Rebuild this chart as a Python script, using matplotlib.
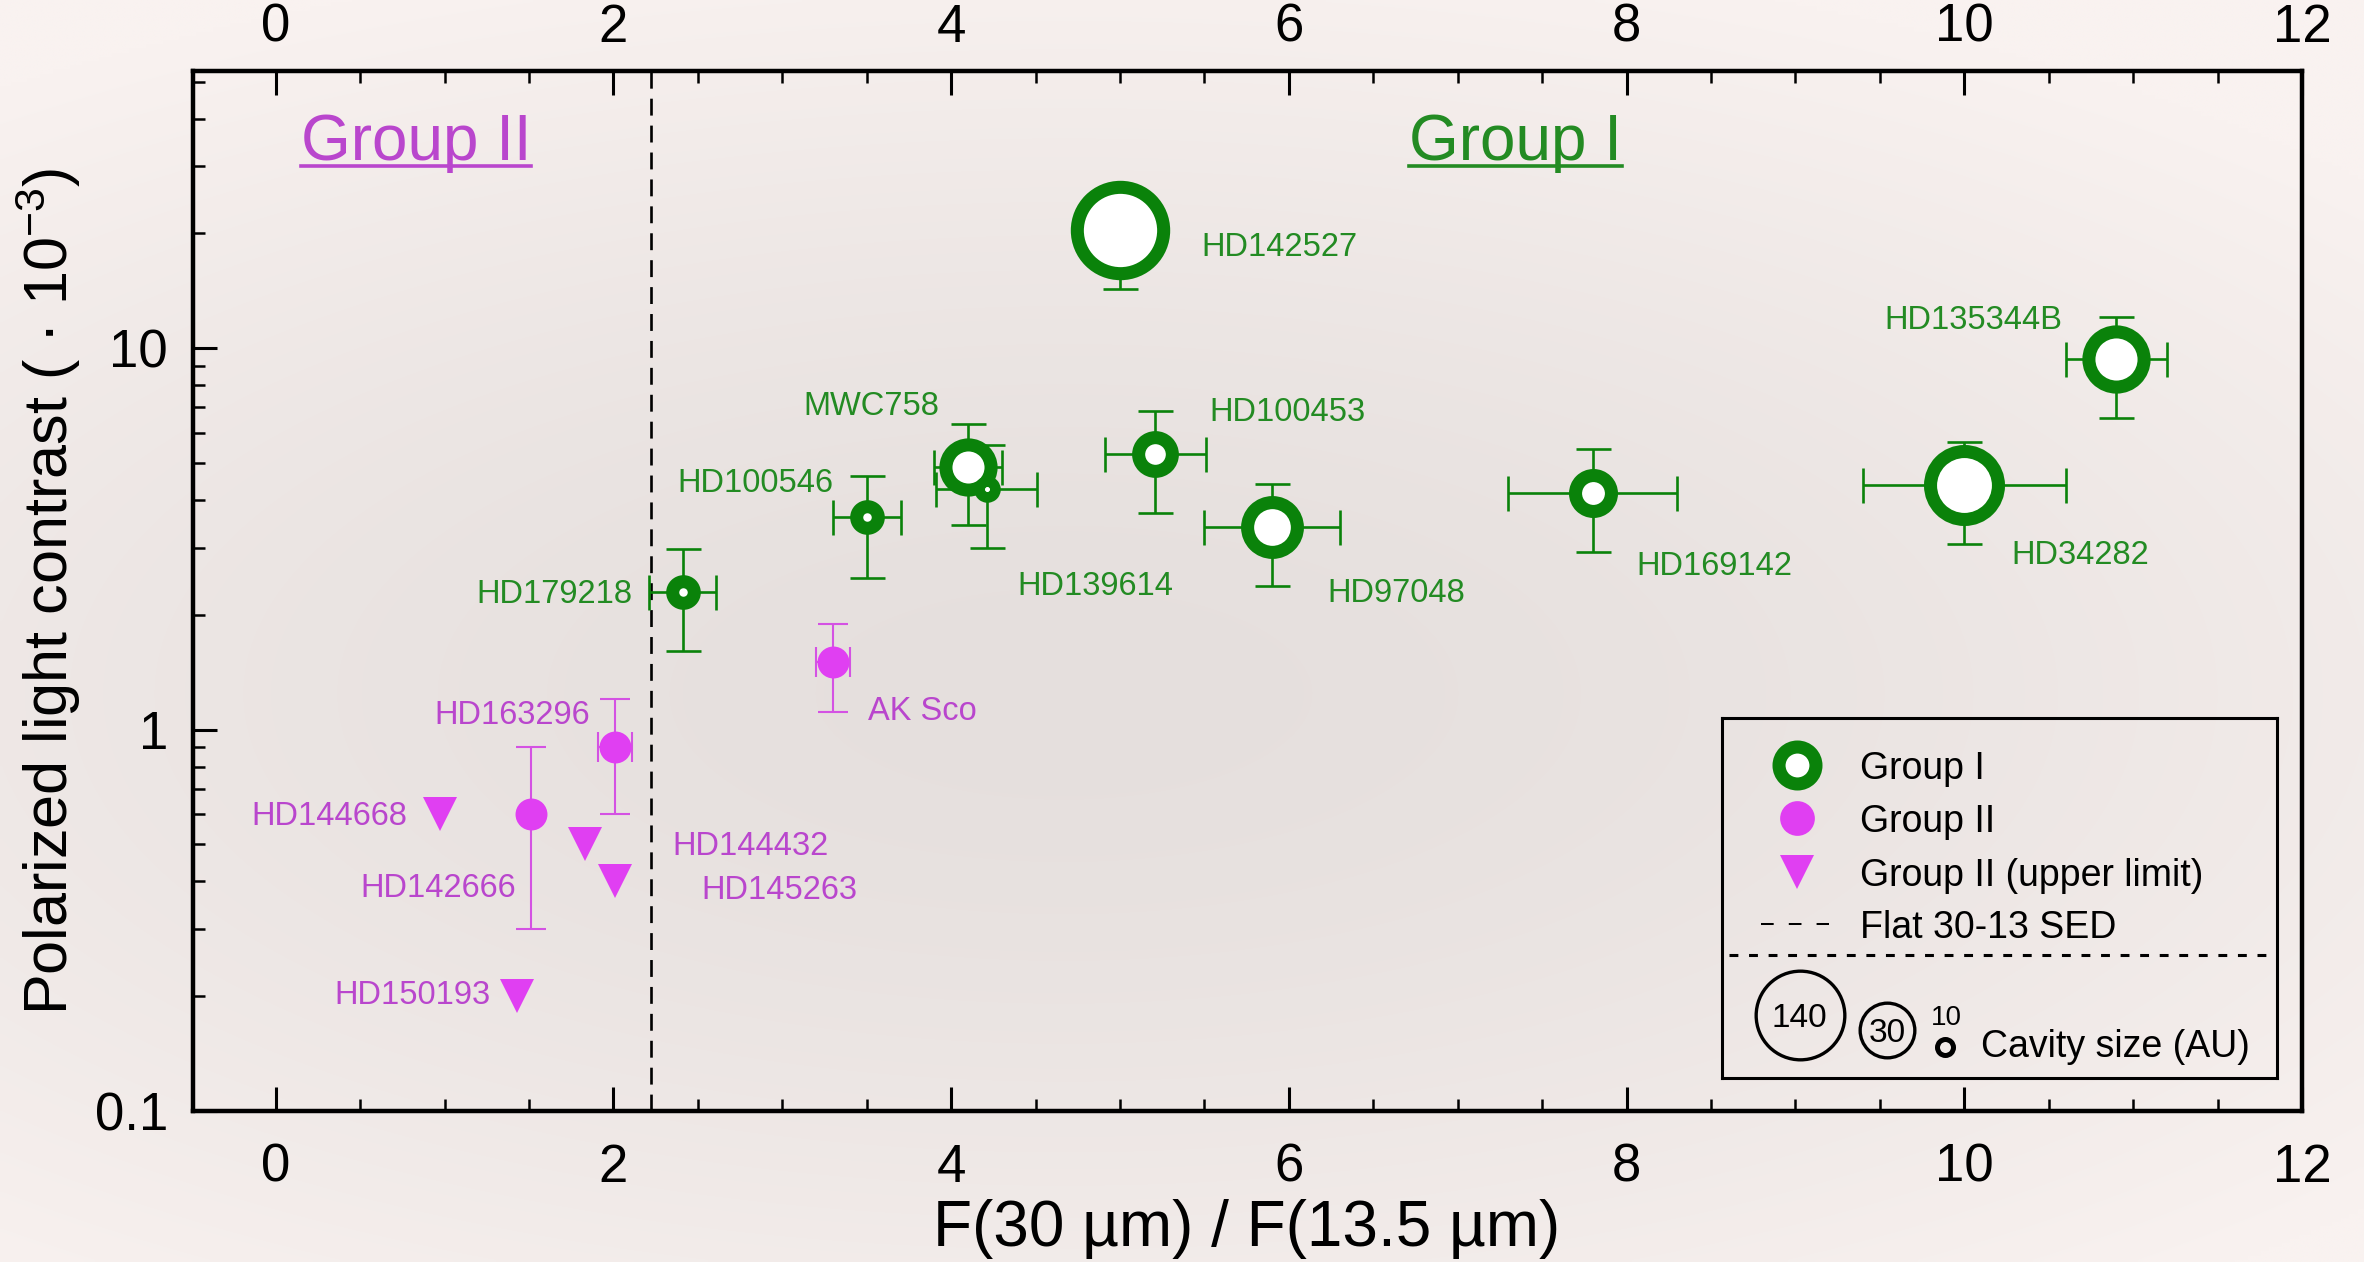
import numpy as np
import matplotlib

matplotlib.use("Agg")
import matplotlib.pyplot as plt
from matplotlib.lines import Line2D
from matplotlib.ticker import (FixedFormatter, FixedLocator, LogLocator,
                               MultipleLocator, NullFormatter, NullLocator)

plt.rcParams["font.family"] = ["Liberation Sans", "DejaVu Sans"]
plt.rcParams["mathtext.fontset"] = "custom"
plt.rcParams["mathtext.rm"] = "Liberation Sans"
plt.rcParams["mathtext.default"] = "regular"

# Group I discs: F(30)/F(13.5), polarized contrast (1e-3) with bounds, cavity size (AU)
g1_names = ["HD142527", "HD135344B", "HD34282", "HD100453", "HD97048",
            "HD169142", "MWC758", "HD139614", "HD100546", "HD179218"]
g1_ratio = [5.00, 10.90, 10.00, 5.21, 5.90, 7.80, 4.10, 4.21, 3.50, 2.41]
g1_ratio_err = [0.0, 0.3, 0.6, 0.3, 0.4, 0.5, 0.2, 0.3, 0.2, 0.2]
g1_contrast = [20.4, 9.35, 4.38, 5.28, 3.39, 4.18, 4.87, 4.28, 3.60, 2.30]
g1_contrast_lo = [14.3, 6.55, 3.07, 3.69, 2.38, 2.93, 3.43, 3.00, 2.50, 1.61]
g1_contrast_hi = [25.0, 12.1, 5.67, 6.86, 4.40, 5.44, 6.31, 5.58, 4.63, 2.97]
g1_cavity_au = [140, 66, 93, 31, 56, 34, 48, 10, 17, 17]

# Group II discs with a detection
g2_names = ["AK Sco", "HD163296", "HD142666"]
g2_ratio = [3.30, 2.01, 1.51]
g2_ratio_err = [0.1, 0.1, 0.0]
g2_contrast = [1.50, 0.90, 0.60]
g2_contrast_lo = [1.11, 0.60, 0.30]
g2_contrast_hi = [1.89, 1.20, 0.90]

# Group II upper limits
lim_names = ["HD144668", "HD144432", "HD145263", "HD150193"]
lim_ratio = [0.97, 1.83, 2.01, 1.43]
lim_contrast = [0.60, 0.50, 0.40, 0.20]

# flat lambda*F_lambda spectrum between 13.5 and 30 micron
flat_sed_ratio = 30.0 / 13.5

x_ticks = [0, 2, 4, 6, 8, 10, 12]
y_ticks = [0.1, 1, 10]
y_ticklabels = ["0.1", "1", "10"]

# label placement (x, y, ha)
label_at = {
    "HD142527": (5.48, 18.7, "left"),
    "HD135344B": (10.58, 12.1, "right"),
    "HD34282": (10.28, 2.92, "left"),
    "HD100453": (5.53, 6.93, "left"),
    "HD97048": (6.23, 2.32, "left"),
    "HD169142": (8.06, 2.74, "left"),
    "MWC758": (3.93, 7.17, "right"),
    "HD139614": (4.39, 2.43, "left"),
    "HD100546": (3.30, 4.52, "right"),
    "HD179218": (2.115, 2.31, "right"),
    "AK Sco": (3.51, 1.14, "left"),
    "HD163296": (1.86, 1.11, "right"),
    "HD142666": (1.42, 0.392, "right"),
    "HD144668": (0.78, 0.605, "right"),
    "HD144432": (2.35, 0.505, "left"),
    "HD145263": (2.52, 0.387, "left"),
    "HD150193": (1.27, 0.205, "right"),
}

GREEN = "#0a820a"
GREEN_TXT = "#238b23"
MAGENTA = "#e03ff2"
MAGENTA_ERR = "#d452e3"
MAGENTA_TXT = "#b946cd"

W, H, DPI = 2364, 1262, 100
PT = 72.0 / DPI  # points per pixel
RING_W = 9.4  # ring edge width, points


def ring_outer(cav):
    """Outer ring diameter (points) for a cavity size in AU."""
    return 8.4 * np.sqrt(cav) * PT


fig = plt.figure(figsize=(W / DPI, H / DPI), dpi=DPI)

# soft vignette behind everything
bg = fig.add_axes([0, 0, 1, 1], zorder=-10)
yy, xx = np.mgrid[0:1:300j, 0:1:560j]
d = np.sqrt(((xx - 0.45) / 0.75) ** 2 + ((yy - 0.55) / 0.6) ** 2)
t = np.clip(d, 0, 1)[..., None] ** 1.5
centre = np.array([229, 223, 221]) / 255
edge = np.array([249, 242, 240]) / 255
bg.imshow(centre + (edge - centre) * t, aspect="auto", extent=[0, 1, 0, 1],
          origin="upper", interpolation="bilinear")
bg.axis("off")

ax = fig.add_axes([193 / W, 1 - 1111 / H, (2302 - 193) / W, (1111 - 71) / H])
ax.set_facecolor("none")
ax.set_yscale("log")
ax.set_xlim(-0.49, 12)
ax.set_ylim(0.1, 53.3)

ax.axvline(flat_sed_ratio, color="k", lw=1.9, ls=(0, (6.4, 3.8)), zorder=1)

# Group I
g1_c = np.array(g1_contrast)
ax.errorbar(g1_ratio, g1_c, xerr=g1_ratio_err,
            yerr=[g1_c - np.array(g1_contrast_lo), np.array(g1_contrast_hi) - g1_c],
            fmt="none", ecolor=GREEN, elinewidth=1.9, capsize=12.6, capthick=1.9,
            zorder=2)
for x, y, cav in zip(g1_ratio, g1_contrast, g1_cavity_au):
    outer = ring_outer(cav)
    mew = min(RING_W, 0.4 * outer)
    ax.plot(x, y, ls="none", marker="o", ms=outer - mew,
            mfc="white", mec=GREEN, mew=mew, zorder=3)

# Group II
g2_c = np.array(g2_contrast)
ax.errorbar(g2_ratio, g2_c, xerr=g2_ratio_err,
            yerr=[g2_c - np.array(g2_contrast_lo), np.array(g2_contrast_hi) - g2_c],
            fmt="none", ecolor=MAGENTA_ERR, elinewidth=1.5, capsize=10.8,
            capthick=1.5, zorder=2)
ax.plot(g2_ratio, g2_contrast, ls="none", marker="o", ms=23, color=MAGENTA,
        mew=0, zorder=3)
ax.plot(lim_ratio, lim_contrast, ls="none", marker="v", ms=24, color=MAGENTA,
        mew=0, zorder=3)

for names, col in [(g1_names, GREEN_TXT), (g2_names + lim_names, MAGENTA_TXT)]:
    for n in names:
        x, y, ha = label_at[n]
        ax.text(x, y, n, ha=ha, va="center_baseline", fontsize=23.5, color=col)

# axes styling
ax.xaxis.set_major_locator(FixedLocator(x_ticks))
ax.xaxis.set_minor_locator(MultipleLocator(0.5))
ax.yaxis.set_major_locator(FixedLocator(y_ticks))
ax.yaxis.set_major_formatter(FixedFormatter(y_ticklabels))
ax.yaxis.set_minor_locator(LogLocator(base=10, subs=np.arange(2, 10)))
ax.yaxis.set_minor_formatter(NullFormatter())
ax.tick_params(which="both", direction="in", top=True, right=False,
               labelsize=38, color="k")
ax.tick_params(which="major", length=17, width=2.2)
ax.tick_params(which="minor", length=8.5, width=1.8)
ax.tick_params(axis="x", pad=23)
ax.tick_params(axis="y", pad=18)
for s in ax.spines.values():
    s.set_linewidth(3.2)

top = ax.secondary_xaxis("top")
top.xaxis.set_major_locator(FixedLocator(x_ticks))
top.xaxis.set_minor_locator(NullLocator())
top.tick_params(length=0, pad=13, labelsize=38)
for s in top.spines.values():
    s.set_visible(False)

fig.text(1247 / W, 1 - 1229 / H, "F(30 µm) / F(13.5 µm)", ha="center",
         va="center", fontsize=46)
fig.text(48 / W, 1 - 591 / H, "Polarized light contrast ( · 10$^{-3}$)",
         rotation=90, ha="center", va="center", fontsize=44)

# underlined group headings
headers = []
for text, hx, col in [("Group II", 0.83, MAGENTA_TXT), ("Group I", 7.34, GREEN_TXT)]:
    headers.append((ax.text(hx, 31.2, text, ha="center", va="baseline",
                            fontsize=46, color=col), hx, col))

# legend box
leg = fig.add_axes([1722 / W, 1 - 1078 / H, 555 / W, 360 / H], zorder=5)
leg.set_xlim(0, 555)
leg.set_ylim(360, 0)
leg.set_facecolor("none")
leg.set_xticks([])
leg.set_yticks([])
for s in leg.spines.values():
    s.set_linewidth(2.2)

leg.plot(75, 47, marker="o", ms=50 * PT - RING_W, mfc="white", mec=GREEN,
         mew=RING_W)
leg.plot(75, 100, marker="o", ms=25, color=MAGENTA, mew=0)
leg.plot(75, 154, marker="v", ms=25, color=MAGENTA, mew=0)
leg.plot([39, 107], [206, 206], color="k", lw=1.45, ls=(0, (6.3, 7.5)))
leg.plot([7, 550], [237, 237], color="k", lw=2.2, ls=(0, (2.9, 3.5)))
for ty, txt in [(47, "Group I"), (100, "Group II"),
                (154, "Group II (upper limit)"), (206, "Flat 30-13 SED")]:
    leg.text(138, ty, txt, ha="left", va="center_baseline", fontsize=27)

leg.plot(77.5, 297, marker="o", ms=92 * PT - 2.4, mfc="none", mec="k", mew=2.4)
leg.text(77.5, 297, "140", ha="center", va="center_baseline", fontsize=24)
leg.plot(165, 312, marker="o", ms=58 * PT - 2.4, mfc="none", mec="k", mew=2.4)
leg.text(165, 312, "30", ha="center", va="center_baseline", fontsize=24)
leg.plot(223, 329, marker="o", ms=21 * PT - 3.6, mfc="none", mec="k", mew=3.6)
leg.text(224, 297, "10", ha="center", va="center_baseline", fontsize=20)
leg.text(259, 325, "Cavity size (AU)", ha="left", va="center_baseline",
         fontsize=27)

fig.canvas.draw()
renderer = fig.canvas.get_renderer()
for txt, hx, col in headers:
    bb = txt.get_window_extent(renderer)
    _, yb = ax.transData.transform((hx, 31.2))
    y_ul = (yb - 6) / H
    fig.add_artist(Line2D([bb.x0 / W, bb.x1 / W], [y_ul, y_ul],
                          transform=fig.transFigure, color=col, lw=2.6))

fig.savefig("out.png", dpi=DPI)
plt.close(fig)
